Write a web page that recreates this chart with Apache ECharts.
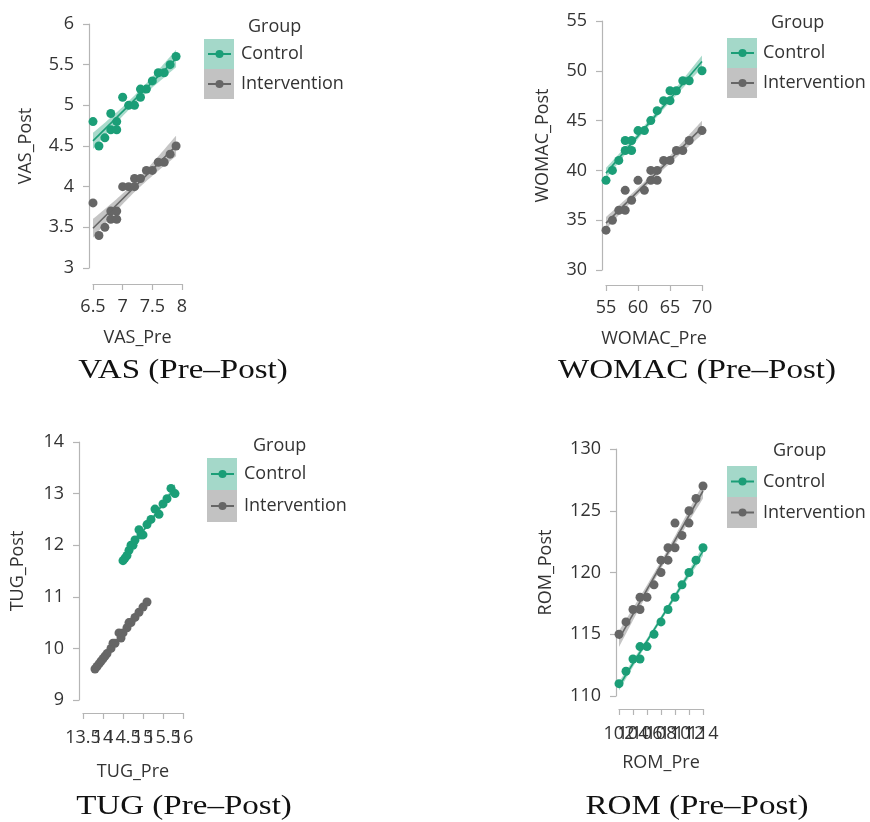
<!DOCTYPE html>
<html><head><meta charset="utf-8">
<script src="https://cdn.jsdelivr.net/npm/echarts@6/dist/echarts.min.js"></script>
<style>html,body{margin:0;padding:0;background:#fff}#c{width:870px;height:822px}</style>
</head><body><div id="c"></div>
<script>
// ---------------- DATA ----------------
const groupNames = ['Control', 'Intervention'];

const vasCtrlPre   = [6.5,6.6,6.7,6.8,6.8,6.9,6.9,7.0,7.1,7.2,7.3,7.3,7.4,7.5,7.6,7.7,7.8,7.9];
const vasCtrlPost  = [4.8,4.5,4.6,4.9,4.7,4.7,4.8,5.1,5.0,5.0,5.1,5.2,5.2,5.3,5.4,5.4,5.5,5.6];
const vasIntPre    = [6.5,6.6,6.7,6.8,6.8,6.9,6.9,7.0,7.1,7.2,7.2,7.3,7.4,7.5,7.6,7.7,7.8,7.9];
const vasIntPost   = [3.8,3.4,3.5,3.7,3.6,3.7,3.6,4.0,4.0,4.0,4.1,4.1,4.2,4.2,4.3,4.3,4.4,4.5];

const womacCtrlPre  = [55,56,57,58,58,59,59,60,61,62,63,64,65,65,66,67,68,70];
const womacCtrlPost = [39,40,41,42,43,42,43,44,44,45,46,47,47,48,48,49,49,50];
const womacIntPre   = [55,56,57,58,58,59,60,61,62,62,63,63,64,65,66,67,68,70];
const womacIntPost  = [34,35,36,38,36,37,39,38,40,39,39,40,41,41,42,42,43,44];

const tugCtrlPre  = [14.5,14.55,14.6,14.65,14.7,14.75,14.8,14.9,14.95,15.0,15.1,15.2,15.3,15.4,15.5,15.6,15.7,15.8];
const tugCtrlPost = [11.7,11.75,11.8,11.9,12.0,12.0,12.1,12.3,12.2,12.2,12.4,12.5,12.7,12.6,12.8,12.9,13.1,13.0];
const tugIntPre   = [13.8,13.85,13.9,13.95,14.0,14.05,14.1,14.2,14.25,14.3,14.4,14.45,14.5,14.6,14.65,14.7,14.8,14.9,15.0,15.1];
const tugIntPost  = [9.6,9.65,9.7,9.75,9.8,9.85,9.9,10.0,10.1,10.1,10.3,10.2,10.3,10.4,10.5,10.5,10.6,10.7,10.8,10.9];

const romCtrlPre  = [102,103,104,105,105,106,107,108,109,110,111,112,113,114];
const romCtrlPost = [111,112,113,113,114,114,115,116,117,118,119,120,121,122];
const romIntPre   = [102,103,104,105,105,106,107,108,108,109,109,110,110,111,112,112,113,114];
const romIntPost  = [115,116,117,117,118,118,119,120,121,121,122,122,124,123,124,125,126,127];

const vasXTicks = [6.5,7,7.5,8];        const vasYTicks = [3,3.5,4,4.5,5,5.5,6];
const womacXTicks = [55,60,65,70];      const womacYTicks = [30,35,40,45,50,55];
const tugXTicks = [13.5,14,14.5,15,15.5,16]; const tugYTicks = [9,10,11,12,13,14];
const romXTicks = [102,104,106,108,110,112,114]; const romYTicks = [110,115,120,125,130];

const captions = ['VAS (Pre–Post)', 'WOMAC (Pre–Post)', 'TUG (Pre–Post)', 'ROM (Pre–Post)'];
const xNames = ['VAS_Pre', 'WOMAC_Pre', 'TUG_Pre', 'ROM_Pre'];
const yNames = ['VAS_Post', 'WOMAC_Post', 'TUG_Post', 'ROM_Post'];

// ---------------- STYLE / LAYOUT ----------------
const GREEN = '#1b9e77', GRAY = '#666666';
const GREEN_BAND = 'rgba(27,158,119,0.38)', GRAY_BAND = 'rgba(102,102,102,0.38)';
const SW_GREEN = '#a4d8c9', SW_GRAY = '#c2c2c2';
const SANS = '"Open Sans", "Noto Sans", sans-serif';
const SERIF = '"Liberation Serif", "DejaVu Serif", serif';
const K = 3; // x label layers per panel (lets crowded labels overlap as in the original)

const panels = [
  {ctrl:[vasCtrlPre,vasCtrlPost], int:[vasIntPre,vasIntPost], xt:vasXTicks, yt:vasYTicks,
   left:93, top:24, w:89, h:244, yOff:4, xOff:16, xNameGap:45, yNameGap:54, xMargin:14,
   leg:{sx:204, sy:39, rh:30, tx:241, gx:248, gy:27}, cap:{x:183, y:371}},
  {ctrl:[womacCtrlPre,womacCtrlPost], int:[womacIntPre,womacIntPost], xt:womacXTicks, yt:womacYTicks,
   left:606, top:21, w:96, h:249, yOff:4, xOff:15, xNameGap:45, yNameGap:50, xMargin:14,
   leg:{sx:727, sy:38, rh:30, tx:763, gx:771, gy:23}, cap:{x:697, y:371}},
  {ctrl:[tugCtrlPre,tugCtrlPost], int:[tugIntPre,tugIntPost], xt:tugXTicks, yt:tugYTicks,
   left:83, top:442, w:100, h:258, yOff:4, xOff:13, xNameGap:50, yNameGap:52, xMargin:16,
   leg:{sx:207, sy:458, rh:32, tx:244, gx:253, gy:446}, cap:{x:184, y:807}},
  {ctrl:[romCtrlPre,romCtrlPost], int:[romIntPre,romIntPost], xt:romXTicks, yt:romYTicks,
   left:619, top:449, w:84, h:247, yOff:3, xOff:13, xNameGap:45, yNameGap:61, xMargin:16,
   leg:{sx:727, sy:466, rh:31, tx:763, gx:773, gy:451}, cap:{x:697, y:807}}
];

// ---------------- REGRESSION ----------------
function tcrit(df){ // two-sided 95% t critical values
  const tb = {10:2.228,11:2.201,12:2.179,13:2.160,14:2.145,15:2.131,16:2.120,17:2.110,18:2.101,19:2.093,20:2.086};
  return tb[df] || 2.1;
}
function fit(xs, ys){
  const n = xs.length;
  const mx = xs.reduce((a,b)=>a+b,0)/n, my = ys.reduce((a,b)=>a+b,0)/n;
  let sxx=0, sxy=0;
  for(let i=0;i<n;i++){ sxx += (xs[i]-mx)**2; sxy += (xs[i]-mx)*(ys[i]-my); }
  const b = sxy/sxx, a = my - b*mx;
  let sse=0; for(let i=0;i<n;i++){ sse += (ys[i]-a-b*xs[i])**2; }
  const s = Math.sqrt(sse/(n-2)), t = tcrit(n-2);
  const xmin = Math.min(...xs), xmax = Math.max(...xs);
  const band = [];
  const N = 40;
  for(let k=0;k<=N;k++){
    const x = xmin + (xmax-xmin)*k/N;
    const yh = a + b*x;
    const se = s*Math.sqrt(1/n + (x-mx)**2/sxx);
    band.push([x, yh - t*se, yh + t*se]);
  }
  return {line:[[xmin, a+b*xmin],[xmax, a+b*xmax]], band};
}

// ---------------- BUILD OPTION ----------------
const grid=[], xAxis=[], yAxis=[], series=[], graphic=[];
panels.forEach((p, i) => {
  grid.push({left:p.left, top:p.top, width:p.w, height:p.h, containLabel:false, outerBoundsMode:'none'});
  const xt = p.xt, yt = p.yt;
  for (let j = 0; j < K; j++) {
    const main = j === 0;
    xAxis.push({type:'value', gridIndex:i, position:'bottom', min:xt[0], max:xt[xt.length-1], interval:xt[1]-xt[0],
      offset:p.xOff, name: main ? xNames[i] : '', nameLocation:'middle', nameGap:p.xNameGap,
      nameTextStyle:{fontFamily:SANS, fontSize:18, color:'#333'},
      axisLine:{show:main, lineStyle:{color:'#b5b5b5', width:1.2}},
      axisTick:{show:main, length:6, lineStyle:{color:'#b5b5b5', width:1.2}},
      axisLabel:{fontFamily:SANS, fontSize:18, color:'#333', margin:p.xMargin,
        showMinLabel:true, showMaxLabel:true, hideOverlap:false,
        formatter:(v) => { const idx = xt.findIndex(t => Math.abs(t - v) < 1e-9); return (idx >= 0 && idx % K === j) ? String(v) : ''; }},
      splitLine:{show:false}});
  }
  yAxis.push({type:'value', gridIndex:i, position:'left', min:yt[0], max:yt[yt.length-1], interval:yt[1]-yt[0],
    offset:p.yOff, name:yNames[i], nameLocation:'middle', nameGap:p.yNameGap,
    nameTextStyle:{fontFamily:SANS, fontSize:18, color:'#333'},
    axisLine:{show:true, lineStyle:{color:'#b5b5b5', width:1.2}},
    axisTick:{show:true, length:6, lineStyle:{color:'#b5b5b5', width:1.2}},
    axisLabel:{fontFamily:SANS, fontSize:18, color:'#333', margin:15, showMinLabel:true, showMaxLabel:true},
    splitLine:{show:false}});

  const xi = i * K;
  [[p.ctrl, GREEN, GREEN_BAND, groupNames[0]], [p.int, GRAY, GRAY_BAND, groupNames[1]]].forEach(([d, col, bandCol, nm]) => {
    const xs = d[0], ys = d[1];
    const f = fit(xs, ys);
    const bandData = f.band;
    series.push({type:'custom', xAxisIndex:xi, yAxisIndex:i, silent:true, z:1,
      data: bandData,
      renderItem: (params, api) => {
        if (params.dataIndex !== 0) return null;
        const up = bandData.map(r => api.coord([r[0], r[2]]));
        const lo = bandData.map(r => api.coord([r[0], r[1]])).reverse();
        return {type:'polygon', shape:{points: up.concat(lo)}, style:{fill: bandCol}};
      }});
    series.push({type:'scatter', name:nm, xAxisIndex:xi, yAxisIndex:i, z:2,
      symbolSize:9, itemStyle:{color:col, opacity:1},
      data: xs.map((x, k) => [x, ys[k]])});
    series.push({type:'line', xAxisIndex:xi, yAxisIndex:i, z:3, silent:true,
      showSymbol:false, symbol:'none', lineStyle:{color:col, width:1.6},
      data: f.line});
  });

  // legend (drawn as graphic)
  const L = p.leg;
  graphic.push({type:'text', x:L.gx, y:L.gy, style:{text:'Group', font:'18px '+SANS, fill:'#333', align:'left', verticalAlign:'middle', textAlign:'left', textVerticalAlign:'middle'}});
  [[SW_GREEN, GREEN, groupNames[0]], [SW_GRAY, GRAY, groupNames[1]]].forEach(([sw, col, nm], r) => {
    const y0 = L.sy + r*L.rh, cy = y0 + L.rh/2;
    graphic.push({type:'rect', shape:{x:L.sx, y:y0, width:30, height:L.rh}, style:{fill:sw}});
    graphic.push({type:'line', shape:{x1:L.sx+4, y1:cy, x2:L.sx+27, y2:cy}, style:{stroke:col, lineWidth:2}});
    graphic.push({type:'circle', shape:{cx:L.sx+15.5, cy:cy, r:4}, style:{fill:col}});
    graphic.push({type:'text', x:L.tx, y:cy, style:{text:nm, font:'18px '+SANS, fill:'#333', align:'left', verticalAlign:'middle', textAlign:'left', textVerticalAlign:'middle'}});
  });
  // caption
  graphic.push({type:'text', x:p.cap.x, y:p.cap.y, scaleX:1.18, scaleY:1,
    style:{text:captions[i], font:'28px '+SERIF, fill:'#111', align:'center', verticalAlign:'middle', textAlign:'center', textVerticalAlign:'middle'}});
});

const chart = echarts.init(document.getElementById('c'), null, {renderer:'canvas'});
chart.setOption({animation:false, backgroundColor:'#fff', grid, xAxis, yAxis, series, graphic});
</script>
</body></html>
